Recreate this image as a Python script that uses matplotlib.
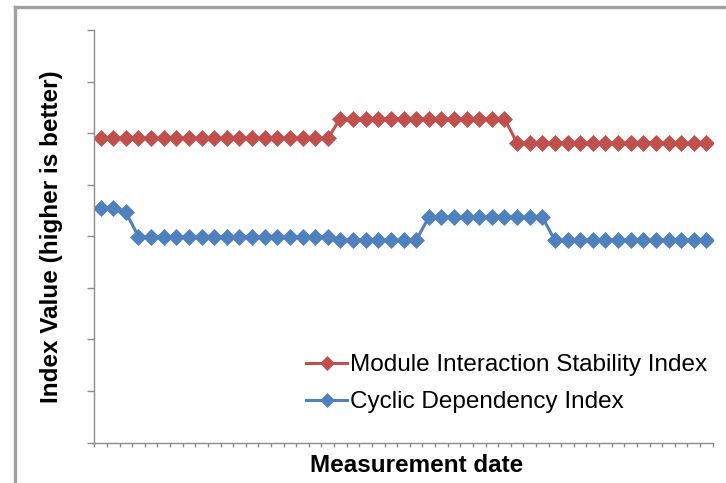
import numpy as np
import matplotlib.pyplot as plt
from matplotlib.lines import Line2D

plt.rcParams['font.family'] = ['Liberation Sans', 'DejaVu Sans']

mis_index = [5.90, 5.90, 5.90, 5.90, 5.90, 5.90, 5.90, 5.90, 5.90, 5.90,
             5.90, 5.90, 5.90, 5.90, 5.90, 5.90, 5.90, 5.90, 5.90,
             6.28, 6.28, 6.28, 6.28, 6.28, 6.28, 6.28, 6.28, 6.28, 6.28,
             6.28, 6.28, 6.28, 6.28,
             5.81, 5.81, 5.81, 5.81, 5.81, 5.81, 5.81, 5.81, 5.81, 5.81,
             5.81, 5.81, 5.81, 5.81, 5.81, 5.81]
cd_index = [4.54, 4.54, 4.47,
            3.99, 3.99, 3.99, 3.99, 3.99, 3.99, 3.99, 3.99, 3.99, 3.99,
            3.99, 3.99, 3.99, 3.99, 3.99, 3.99,
            3.92, 3.92, 3.92, 3.92, 3.92, 3.92, 3.92,
            4.37, 4.37, 4.37, 4.37, 4.37, 4.37, 4.37, 4.37, 4.37, 4.37,
            3.92, 3.92, 3.92, 3.92, 3.92, 3.92, 3.92, 3.92, 3.92, 3.92,
            3.92, 3.92, 3.92]
labels = ["Module Interaction Stability Index", "Cyclic Dependency Index"]
y_ticks = [0, 1, 2, 3, 4, 5, 6, 7, 8]

red = "#C0504D"
blue = "#4F81BD"
axis_gray = "#8C8C8C"

n = len(mis_index)
x = np.arange(n)

fig = plt.figure(figsize=(7.26, 4.83), dpi=100)
W, H = 726, 483
ax = fig.add_axes([94.3/W, 1 - 442.5/H, (712.7 - 94.3)/W, (442.5 - 30)/H])

# moldura da area do grafico (cortada a direita e embaixo)
fig.add_artist(Line2D([15/W, 15/W], [0, 1 - 7/H], color="#A0A0A0", lw=2.4))
fig.add_artist(Line2D([15/W, 1], [1 - 7/H, 1 - 7/H], color="#A0A0A0", lw=2.4))

ax.plot(x, mis_index, color=red, lw=2.2, marker="D", ms=8.6,
        mec=red, mew=0.5, label=labels[0])
ax.plot(x, cd_index, color=blue, lw=2.2, marker="D", ms=8.6,
        mec=blue, mew=0.5, label=labels[1])

ax.set_xlim(-0.5, n - 0.5)
ax.set_ylim(y_ticks[0], y_ticks[-1])

ax.set_yticks(y_ticks)
ax.set_yticklabels([])
ax.set_xticks(np.arange(n + 1) - 0.5)
ax.set_xticklabels([])
ax.tick_params(axis="y", direction="out", length=5, width=1, color=axis_gray)
ax.tick_params(axis="x", direction="out", length=3, width=1, color=axis_gray)

for s in ["top", "right"]:
    ax.spines[s].set_visible(False)
for s in ["left", "bottom"]:
    ax.spines[s].set_color(axis_gray)
    ax.spines[s].set_linewidth(1.0)

ax.set_ylabel("Index Value (higher is better)", fontsize=17.5,
              fontweight="bold", labelpad=0)
ax.yaxis.set_label_coords(-(94.3 - 63)/(712.7 - 94.3), 0.5)
ax.set_xlabel("Measurement date", fontsize=17.5, fontweight="bold")
ax.xaxis.set_label_coords((417 - 94.3)/(712.7 - 94.3), -(466 - 442.5)/(442.5 - 30))
ax.xaxis.label.set_va("center")

leg = ax.legend(loc="upper left", bbox_to_anchor=(306/W, 1 - 354/H),
                bbox_transform=fig.transFigure, frameon=False,
                fontsize=17.5, borderpad=0, borderaxespad=0,
                handlelength=1.7, handletextpad=0.12, labelspacing=0.62)
for h in leg.legend_handles:
    h.set_markersize(7.5)

fig.savefig("out.png", dpi=100)
